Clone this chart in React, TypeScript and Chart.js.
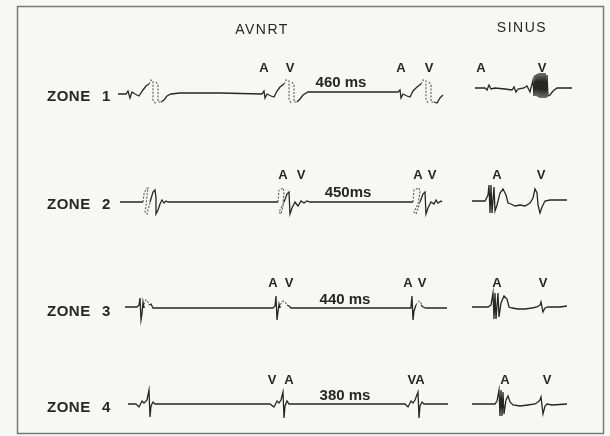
import { useEffect, useRef } from "react";
import { Chart, registerables } from "chart.js";

Chart.register(...registerables);

type P = [number, number | null];

// ---------- text content ----------
const panelTitles = ["AVNRT", "SINUS"];
const zoneNames = ["ZONE", "ZONE", "ZONE", "ZONE"];
const zoneNumbers = ["1", "2", "3", "4"];
const cycleLengths = ["460 ms", "450ms", "440 ms", "380 ms"];

// wave labels: [text, time]
const zone1Marks: [string, number][] = [["A", 264], ["V", 290], ["A", 401], ["V", 429], ["A", 481], ["V", 542]];
const zone2Marks: [string, number][] = [["A", 283], ["V", 301], ["A", 418], ["V", 432], ["A", 497], ["V", 541]];
const zone3Marks: [string, number][] = [["A", 273], ["V", 289], ["A", 408], ["V", 422], ["A", 497], ["V", 543]];
const zone4Marks: [string, number][] = [["V", 272], ["A", 289], ["VA", 416], ["A", 505], ["V", 547]];

// ---------- electrogram samples: [time, amplitude] ----------
const zone1Avnrt: P[] = [
  [118, 0], [126, 0], [128, 3], [130, -4], [132, 2], [135, 0], [139, -2], [143, 4], [146, 8], [149, 10], [149, null],
  [161, -8], [164, -6], [167, -2], [171, 0], [180, 1], [220, 1], [262, 0], [264, 3], [265, -4], [267, 0], [271, -2],
  [274, -3], [277, 3], [280, 7], [284, 10], [284, null],
  [297, -8], [300, -5], [303, -1], [308, 2], [340, 2], [398, 2], [400, 4], [401, -4], [403, 0], [407, -2], [410, -3],
  [413, 3], [417, 7], [421, 10], [421, null],
  [434, -8], [437, -9], [440, -4], [443, -1],
];
const zone1AvnrtDotted: P[] = [
  [149, 10], [151, 14], [153, 13], [153, -6], [156, -10], [156, null],
  [156, 12], [158, 9], [158, -8], [161, -8], [161, null],
  [284, 10], [286, 14], [289, 13], [289, -6], [292, -10], [292, null],
  [292, 12], [294, 9], [294, -8], [297, -8], [297, null],
  [421, 10], [423, 14], [426, 13], [426, -6], [429, -10], [429, null],
  [429, 12], [431, 9], [431, -8], [434, -8],
];
const zone1Sinus: P[] = [
  [475, 0], [485, 0], [487, -2], [489, 3], [491, -1], [495, 0], [505, -1], [512, -2], [514, 1], [516, -4], [518, -1],
  [524, 0], [527, 2], [530, -4], [533, 8], [534, -8], [535, 13], [536, -8], [537, 14], [538, -9], [539, 15],
  [540, -10], [541, 15], [542, -10], [543, 15], [544, -10], [545, 15], [546, -10], [547, 13], [548, -8], [550, -7],
  [553, -3], [557, 0], [572, 0],
];

const zone2Avnrt: P[] = [
  [120, 0], [143, 0], [143, null],
  [150, 0], [153, 10], [155, 12], [156, 4], [156, -12], [158, -8], [160, -2], [162, 2], [164, -1], [166, 1], [168, 0],
  [278, 0], [278, null],
  [284, 0], [287, 8], [289, 10], [290, -12], [292, -6], [295, 0], [298, -4], [301, 1], [304, -1], [307, 1], [310, 0],
  [413, 0], [413, null],
  [420, 0], [423, 8], [425, 10], [426, -12], [428, -6], [431, 0], [434, -2], [436, 2], [438, -1], [441, 1], [442, 0],
];
const zone2AvnrtDotted: P[] = [
  [143, 0], [144, 8], [146, 13], [148, 14], [147, 6], [146, -4], [145, -10], [147, -12], [150, 0], [150, null],
  [278, 0], [279, 12], [283, 14], [284, 10], [283, -2], [279, -10], [281, -12], [284, 0], [284, null],
  [413, 0], [414, 12], [419, 14], [420, 10], [418, -2], [414, -10], [416, -12], [420, 0],
];
const zone2Sinus: P[] = [
  [472, 0], [485, 0], [488, 6], [489, 16], [490, -12], [491, 16], [492, -12], [494, 14], [495, -10], [497, -4],
  [500, 8], [503, 12], [506, 6], [508, -2], [511, -3], [515, -5], [520, -4], [525, -5], [530, -2], [533, 3],
  [535, 12], [537, 8], [538, -4], [540, -12], [542, -6], [545, 0], [550, 1], [567, 1],
];

const zone3Avnrt: P[] = [
  [125, 1], [137, 1], [139, 3], [140, 10], [141, -12], [142, -6], [143, 6], [144, 0], [144, null],
  [149, 3], [151, 4], [153, 0], [156, 0], [273, 0], [275, 2], [276, 12], [277, -12], [278, -4], [279, 4], [280, 0],
  [280, null],
  [287, 3], [289, 2], [291, 0], [410, 0], [411, 2], [412, 12], [413, -12], [414, -3], [416, 3], [416, null],
  [421, 3], [423, 1], [426, 0], [447, 0],
];
const zone3AvnrtDotted: P[] = [
  [144, 0], [144, 4], [146, 8], [148, 6], [149, 3], [149, null],
  [280, 0], [280, 3], [283, 7], [285, 6], [287, 3], [287, null],
  [416, 3], [419, 7], [421, 5], [421, 3],
];
const zone3Sinus: P[] = [
  [472, 0], [488, 0], [491, 2], [493, 14], [494, -12], [495, 14], [496, -12], [498, 14], [499, -10], [501, 4],
  [504, 11], [507, 8], [509, 0], [512, -1], [518, -2], [525, -2], [532, -1], [537, 0], [540, 2], [541, 5],
  [543, -5], [545, -1], [548, 0], [560, 0], [567, 1],
];

const zone4Avnrt: P[] = [
  [128, 0], [136, 0], [139, -3], [142, 3], [144, 1], [147, 4], [149, 14], [150, -13], [151, -2], [153, 2], [155, 0],
  [157, 0], [270, 0], [274, -3], [277, 3], [279, 1], [281, 4], [283, 12], [284, -14], [285, -2], [287, 3], [289, 0],
  [292, 0], [405, 0], [408, -3], [411, 3], [413, 1], [415, 4], [418, 12], [419, -14], [420, -2], [422, 2], [424, 0],
  [448, 0],
];
const zone4Sinus: P[] = [
  [472, 0], [495, 0], [497, 3], [499, 14], [500, -12], [501, 14], [502, -12], [503, 12], [504, -10], [506, 4],
  [508, 8], [510, 2], [513, -1], [520, -2], [528, -1], [535, 0], [538, 2], [540, 4], [541, 7], [543, -10],
  [545, -2], [547, 0], [552, -1], [567, 0],
];

// ---------- layout ----------
const W = 610;
const H = 436;
const avnrtBase = [94, 202, 308, 404];
const sinusBase = [88, 201, 307, 404];
const INK = "#262626";
const BG = "#f7f7f5";

const toPts = (arr: P[], base: number) =>
  arr.map(([x, a]) => ({ x, y: a === null ? null : base - a }));

export default function App() {
  const ref = useRef<HTMLCanvasElement>(null);

  useEffect(() => {
    if (!ref.current) return;
    const solid = (data: P[], base: number) => ({
      data: toPts(data, base),
      borderColor: INK,
      borderWidth: 1.3,
      pointRadius: 0,
      spanGaps: false,
      tension: 0,
      fill: false,
    });
    const dotted = (data: P[], base: number) => ({
      data: toPts(data, base),
      borderColor: "#5a5a5a",
      borderWidth: 1.1,
      borderDash: [2, 1.5],
      pointRadius: 0,
      spanGaps: false,
      tension: 0,
      fill: false,
    });

    const datasets = [
      solid(zone1Avnrt, avnrtBase[0]),
      dotted(zone1AvnrtDotted, avnrtBase[0]),
      solid(zone1Sinus, sinusBase[0]),
      solid(zone2Avnrt, avnrtBase[1]),
      dotted(zone2AvnrtDotted, avnrtBase[1]),
      solid(zone2Sinus, sinusBase[1]),
      solid(zone3Avnrt, avnrtBase[2]),
      dotted(zone3AvnrtDotted, avnrtBase[2]),
      solid(zone3Sinus, sinusBase[2]),
      solid(zone4Avnrt, avnrtBase[3]),
      solid(zone4Sinus, sinusBase[3]),
    ];

    const marks = [zone1Marks, zone2Marks, zone3Marks, zone4Marks];
    const markY = [68, 175, 283, 380];
    const cycleX = [341, 348, 345, 345];
    const cycleY = [83, 193, 300, 396];
    const zoneY = [97, 205, 312, 408];

    const textPlugin = {
      id: "figureText",
      beforeDraw(chart: any) {
        const c = chart.ctx;
        c.save();
        c.fillStyle = BG;
        c.fillRect(0, 0, chart.width, chart.height);
        c.restore();
      },
      afterDatasetsDraw(chart: any) {
        const c = chart.ctx as CanvasRenderingContext2D;
        const xs = chart.scales.x;
        const ys = chart.scales.y;
        c.save();
        // frame
        c.strokeStyle = "#7a7a7a";
        c.lineWidth = 1.5;
        c.strokeRect(17.5, 6.5, 586, 427);

        c.fillStyle = INK;
        c.textBaseline = "middle";
        // titles
        c.textAlign = "center";
        c.font = "14px 'Liberation Sans', Arial, sans-serif";
        (c as any).letterSpacing = "1.5px";
        c.fillText(panelTitles[0], xs.getPixelForValue(262), ys.getPixelForValue(30));
        c.fillText(panelTitles[1], xs.getPixelForValue(522), ys.getPixelForValue(28));
        // zone names
        c.textAlign = "left";
        c.font = "bold 15px 'Liberation Sans', Arial, sans-serif";
        (c as any).letterSpacing = "0.5px";
        zoneNames.forEach((z, i) => {
          c.fillText(z, xs.getPixelForValue(47), ys.getPixelForValue(zoneY[i]));
          c.fillText(zoneNumbers[i], xs.getPixelForValue(102), ys.getPixelForValue(zoneY[i]));
        });
        // cycle lengths
        c.textAlign = "center";
        c.font = "bold 15px 'Liberation Sans', Arial, sans-serif";
        (c as any).letterSpacing = "0px";
        cycleLengths.forEach((t, i) => {
          c.fillText(t, xs.getPixelForValue(cycleX[i]), ys.getPixelForValue(cycleY[i]));
        });
        // A / V marks
        c.font = "bold 13px 'Liberation Sans', Arial, sans-serif";
        marks.forEach((row, i) => {
          row.forEach(([t, x]) => {
            c.fillText(t, xs.getPixelForValue(x), ys.getPixelForValue(markY[i]));
          });
        });
        c.restore();
      },
    };

    const chart = new Chart(ref.current, {
      type: "line",
      data: { datasets: datasets as any },
      options: {
        animation: false,
        responsive: false,
        devicePixelRatio: 1,
        layout: { padding: 0 },
        scales: {
          x: { type: "linear", min: 0, max: W, display: false },
          y: { type: "linear", min: 0, max: H, reverse: true, display: false },
        },
        plugins: { legend: { display: false }, tooltip: { enabled: false } },
      },
      plugins: [textPlugin],
    });
    return () => chart.destroy();
  }, []);

  return (
    <div style={{ position: "fixed", left: 0, top: 0, width: W, height: H, background: BG }}>
      <canvas ref={ref} width={W} height={H} style={{ display: "block" }} />
    </div>
  );
}
